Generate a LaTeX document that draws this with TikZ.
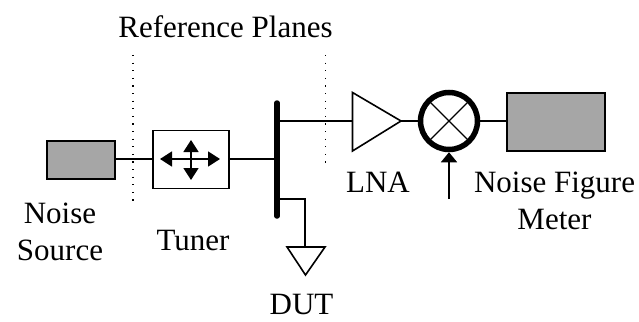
\documentclass[tikz,border=0pt]{standalone}
\usepackage{fontspec}
\setmainfont{Liberation Serif}
\usetikzlibrary{arrows.meta}
\tikzset{
  x=1pt,y=-1pt,
  wire/.style={draw=black,line width=1.6pt},
  graybox/.style={draw=black,line width=1.6pt,fill=black!35,minimum width=#1,inner sep=0pt,outer sep=0pt},
  txt/.style={font=\fontsize{31}{37}\selectfont,inner sep=0pt,align=center,text=black},
  plane/.style={draw=black,line width=1.1pt,line cap=butt,dash pattern=on 1.2pt off 6.4pt},
  tip/.style={-{Triangle[length=12pt,width=15pt]}},
}
\begin{document}
\begin{tikzpicture}
\useasboundingbox (0,0) rectangle (639,321);
\fill[white] (0,0) rectangle (639,321);
% reference planes
\coordinate (p1a) at (133,55); \coordinate (p1b) at (133,203);
\coordinate (p2a) at (325.5,55); \coordinate (p2b) at (325.5,165);
\draw[plane] (p1a) -- (p1b);
\draw[plane] (p2a) -- (p2b);
% blocks
\node[graybox=68pt,minimum height=38pt] (src) at (81,160) {};
\node[draw=black,line width=1.6pt,fill=white,minimum width=76pt,minimum height=58pt,inner sep=0pt,outer sep=0pt] (tuner) at (191,159.5) {};
\node[graybox=98pt,minimum height=58pt] (nfm) at (556,122) {};
% bus
\coordinate (busT) at (277,103); \coordinate (busB) at (277,216);
\draw[line width=5.5pt,line cap=round] (busT) -- (busB);
\coordinate (busS) at (277,159); \coordinate (busL) at (277,121); \coordinate (busG) at (277,199);
\draw[wire] (src.east |- 0,159) -- (tuner.west |- 0,159);
\draw[wire] (tuner.east |- 0,159) -- (busS);
% tuner arrows
\coordinate (tc) at (191,159);
\coordinate (tl) at (160,159); \coordinate (tr) at (220,159);
\coordinate (tt) at (191,140); \coordinate (tb) at (191,180);
\draw[wire,tip] (tc) -- (tl);
\draw[wire,tip] (tc) -- (tr);
\draw[wire,tip] (tc) -- (tt);
\draw[wire,tip] (tc) -- (tb);
% LNA
\coordinate (la) at (352.5,92.5); \coordinate (lb) at (352.5,151); \coordinate (lc) at (401,121);
\draw[wire,line join=miter,fill=white] (la) -- (lc) -- (lb) -- cycle;
\coordinate (lin) at (352.5,121);
\draw[wire] (busL) -- (lin);
% mixer
\node[circle,draw=black,line width=5.5pt,fill=white,minimum size=57pt,inner sep=0pt,outer sep=2.75pt] (mix) at (449,121) {};
\draw[line width=1.3pt] (mix.center) ++(-20,-20) -- ++(40,40);
\draw[line width=1.3pt] (mix.center) ++(20,-20) -- ++(-40,40);
\draw[wire] (lc) -- (mix.west);
\draw[wire] (mix.east) -- (mix.east -| nfm.west);
\coordinate (lo) at (449,199);
\draw[line width=1.6pt,-{Triangle[length=10pt,width=16pt]}] (lo) -- (mix.south);
% ground
\coordinate (gc) at (305,199); \coordinate (gt) at (305,247);
\coordinate (ga) at (287,247); \coordinate (gb) at (325,247); \coordinate (gd) at (305.5,275);
\draw[wire,line join=miter] (busG) -- (gc) -- (gt);
\draw[wire,line join=miter] (ga) -- (gb) -- (gd) -- cycle;
% labels
\node[txt] (refl) at (225.5,27) {Reference Planes};
\node[txt] (nsl) at (60,232) {Noise\\Source};
\node[txt] (tul) at (193,240) {Tuner};
\node[txt] (dutl) at (301.5,304) {DUT};
\node[txt] (lnal) at (378,182) {LNA};
\node[txt] (nfl) at (554.5,201) {Noise Figure\\Meter};
\end{tikzpicture}
\end{document}
